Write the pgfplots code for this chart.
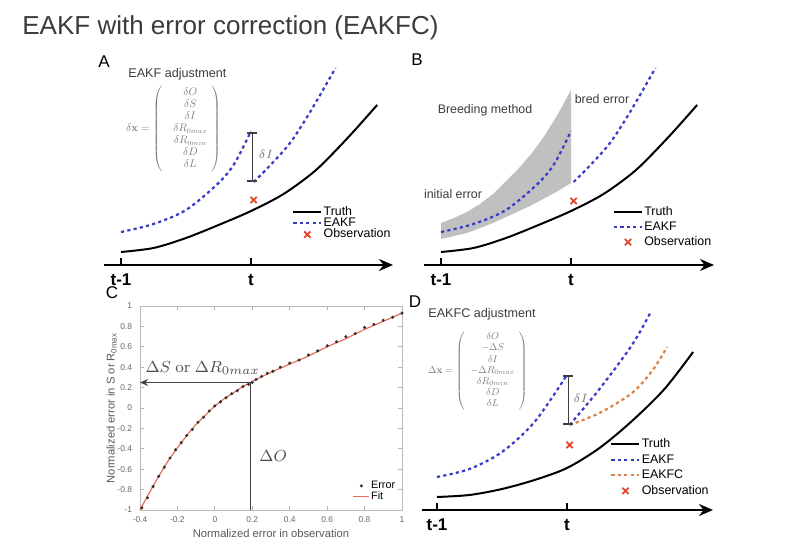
\documentclass[border=0pt]{standalone}
\usepackage{amsmath}
\usepackage[no-math]{fontspec}
\setmainfont{Liberation Sans}
\usepackage{pgfplots}
\pgfplotsset{compat=1.18}
\usetikzlibrary{arrows.meta}

\definecolor{eakf}{RGB}{55,60,200}
\definecolor{eakfc}{RGB}{215,130,70}
\definecolor{obs}{RGB}{225,70,45}
\definecolor{band}{RGB}{192,192,192}
\definecolor{fitc}{RGB}{230,110,90}
\definecolor{txt}{RGB}{60,60,60}
\definecolor{mat}{RGB}{125,125,125}

\newcommand\fs[2]{\fontsize{#1}{#2}\selectfont}

\pgfplotsset{
  sketch/.style={
    scale only axis, clip=false,
    axis x line=bottom, axis y line=none,
    ymin=0, ymax=215, ytick=\empty,
    xtick={0,1}, xticklabels={t-1,t},
    tick align=inside, major tick length=3.5pt,
    every tick/.style={black, line width=0.8pt},
    x axis line style={line width=1pt, -{Stealth[length=7pt,width=6pt]}},
    xticklabel style={font=\fs{8.5}{9}\bfseries, yshift=-1pt},
    legend cell align=left,
    legend style={draw=none, fill=none, font=\fs{6.2}{7}, anchor=north west,
      inner sep=0pt, nodes={inner sep=0.6pt, text height=4.6pt, text depth=1.2pt}},
    legend image code/.code={\draw[mark repeat=2,mark phase=2,##1]
      plot coordinates {(0pt,0pt) (7pt,0pt) (14pt,0pt)};},
  },
  truth/.style={black, line width=1pt, smooth},
  eakfl/.style={eakf, line width=1.1pt, dash pattern=on 1.6pt off 1.6pt, smooth},
  eakfcl/.style={eakfc, line width=1.1pt, dash pattern=on 1.6pt off 1.6pt, smooth},
  obsx/.style={only marks, mark=x, mark size=2.2pt, obs, line width=0.9pt},
}

\begin{document}
\begin{tikzpicture}[x=0.5pt,y=-0.5pt]
\fill[white] (0,0) rectangle (788,544);
\useasboundingbox (0,0) rectangle (788,544);

\node[anchor=base west, inner sep=0, font=\fs{13}{14}, text=txt] at (22,35)
  {EAKF with error correction (EAKFC)};

% ---------------- A
\begin{axis}[sketch, at={(52pt,-132.5pt)}, anchor=south west,
  width=144.5pt, height=107.5pt, xmin=-0.131, xmax=2.092, ymin=-2, ymax=213,
  legend style={at={(0.65,0.28)}, row sep=-1.4pt}]
\addplot[truth] coordinates {(0,11) (0.25,15) (0.5,25) (0.75,38) (1,52) (1.25,69) (1.5,93) (1.75,126) (1.97,158)};
\addlegendentry{Truth}
\addplot[eakfl] coordinates {(0,31) (0.25,39) (0.5,53) (0.75,80) (0.875,100) (1,132)};
\addlegendentry{EAKF}
\addplot[eakfl, forget plot] coordinates {(1.02,81) (1.15,98) (1.3,120) (1.45,150) (1.65,195)};
\addplot[obsx] coordinates {(1.02,63)};
\addlegendentry{Observation}
\draw[black!75, line width=0.8pt, {Bar[width=5pt]}-{Bar[width=5pt]}] (axis cs:1.01,131) -- (axis cs:1.01,81);
\node[font=\fs{6.3}{7}, text=mat, anchor=west, inner sep=1pt] at (axis cs:1.04,109) {$\delta I$};
\end{axis}

% ---------------- B
\begin{axis}[sketch, at={(212pt,-132.5pt)}, anchor=south west,
  width=145pt, height=107.5pt, xmin=-0.131, xmax=2.1, ymin=-2, ymax=213,
  legend style={at={(0.65,0.28)}, row sep=0.5pt}]
\addplot[fill=band, draw=none, forget plot] coordinates {
 (0,40) (0.1,45) (0.2,51) (0.3,59) (0.4,69) (0.5,82) (0.6,95) (0.7,110) (0.8,128) (0.9,149) (1,173)
 (1,80) (0.9,72) (0.8,65) (0.7,58) (0.6,52) (0.5,46) (0.4,40) (0.3,35) (0.2,30) (0.1,27) (0,24)} -- cycle;
\addplot[truth] coordinates {(0,11) (0.25,15) (0.5,25) (0.75,38) (1,52) (1.25,69) (1.5,93) (1.75,126) (1.97,158)};
\addlegendentry{Truth}
\addplot[eakfl] coordinates {(0,31) (0.25,39) (0.5,53) (0.75,80) (0.875,100) (1,132)};
\addlegendentry{EAKF}
\addplot[eakfl, forget plot] coordinates {(1.02,81) (1.15,98) (1.3,120) (1.45,150) (1.65,195)};
\addplot[obsx] coordinates {(1.02,62)};
\addlegendentry{Observation}
\end{axis}

% ---------------- C
\begin{axis}[at={(70pt,-255pt)}, anchor=south west, scale only axis,
  width=131pt, height=102pt, clip=false,
  xmin=-0.4, xmax=1, ymin=-1, ymax=1,
  xtick={-0.4,-0.2,0,0.2,0.4,0.6,0.8,1},
  xticklabels={-0.4,-0.2,0,0.2,0.4,0.6,0.8,1},
  ytick={-1,-0.8,-0.6,-0.4,-0.2,0,0.2,0.4,0.6,0.8,1},
  yticklabels={-1,-0.8,-0.6,-0.4,-0.2,0,0.2,0.4,0.6,0.8,1},
  axis line style={gray!55, line width=0.4pt},
  tick align=inside, major tick length=2pt,
  every tick/.style={gray!60},
  ticklabel style={font=\fs{4.2}{5}, text=black!60},
  yticklabel style={xshift=-0.5pt},
  xlabel={Normalized error in observation},
  ylabel={Normalized error in S or R\textsubscript{0max}},
  label style={font=\fs{5.6}{6}, text=black!65},
  xlabel style={yshift=3.5pt}, ylabel style={yshift=-6.5pt},
  legend cell align=left,
  legend style={draw=none, fill=none, font=\fs{5.4}{6}, at={(0.98,0.03)}, anchor=south east,
    inner sep=0pt, row sep=-1pt, nodes={inner sep=0.6pt}},
  legend image code/.code={\draw[mark repeat=2,mark phase=2,#1]
      plot coordinates {(0pt,0pt) (4pt,0pt) (8pt,0pt)};},
]
\addplot[only marks, mark=*, mark size=0.55pt, black!80] coordinates {
 (-0.39,-0.98) (-0.36,-0.88) (-0.33,-0.77) (-0.30,-0.67) (-0.27,-0.58) (-0.24,-0.49)
 (-0.21,-0.41) (-0.18,-0.34) (-0.15,-0.27) (-0.12,-0.21) (-0.09,-0.14) (-0.06,-0.09)
 (-0.03,-0.03) (0.00,0.02) (0.03,0.06) (0.06,0.10) (0.09,0.14) (0.12,0.17) (0.15,0.21)
 (0.18,0.23) (0.20,0.25) (0.22,0.28) (0.25,0.31) (0.28,0.34) (0.31,0.36) (0.35,0.40)
 (0.40,0.44) (0.45,0.47) (0.50,0.52) (0.55,0.56) (0.60,0.61) (0.65,0.65) (0.70,0.70)
 (0.75,0.73) (0.80,0.79) (0.85,0.82) (0.90,0.86) (0.95,0.89) (1.00,0.93)};
\addlegendentry{Error}
\addplot[fitc, line width=0.6pt, smooth] coordinates {
 (-0.4,-1) (-0.35,-0.83) (-0.3,-0.67) (-0.25,-0.52) (-0.2,-0.39) (-0.15,-0.27)
 (-0.1,-0.16) (-0.05,-0.07) (0,0.02) (0.05,0.09) (0.1,0.15) (0.15,0.21) (0.2,0.26)
 (0.3,0.35) (0.4,0.43) (0.5,0.51) (0.6,0.6) (0.7,0.68) (0.8,0.77) (0.9,0.85) (1,0.93)};
\addlegendentry{Fit}
\draw[black!75, line width=0.9pt, -{Stealth[length=4pt,width=3.5pt]}] (axis cs:0.19,0.25) -- (axis cs:-0.4,0.25);
\draw[black!75, line width=0.9pt] (axis cs:0.19,0.25) -- (axis cs:0.19,-1);
\node[font=\fs{8}{9}, text=black!70] at (axis cs:-0.065,0.39) {$\Delta S\ \mathrm{or}\ \Delta R_{0max}$};
\node[font=\fs{8}{9}, text=black!70, anchor=west] at (axis cs:0.2,-0.47) {$\Delta O$};
\end{axis}

% ---------------- D
\begin{axis}[sketch, at={(211pt,-255pt)}, anchor=south west,
  width=145.5pt, height=107.5pt, xmin=-0.1154, xmax=2.123,
  legend style={at={(0.646,0.34)}, row sep=0.75pt}]
\addplot[truth] coordinates {(0,13) (0.25,15) (0.5,21) (0.75,30) (1,42) (1.25,62) (1.5,89) (1.75,121) (1.97,158)};
\addlegendentry{Truth}
\addplot[eakfl] coordinates {(0,33) (0.25,41) (0.5,58) (0.75,88) (1,135)};
\addlegendentry{EAKF}
\addplot[eakfl, forget plot] coordinates {(1.02,85) (1.25,121) (1.5,165) (1.64,197)};
\addplot[eakfcl] coordinates {(1.02,85) (1.25,97) (1.5,117) (1.66,140) (1.77,163)};
\addlegendentry{EAKFC}
\addplot[obsx] coordinates {(1.02,65)};
\addlegendentry{Observation}
\draw[black!75, line width=0.8pt, {Bar[width=5pt]}-{Bar[width=5pt]}] (axis cs:1.01,135) -- (axis cs:1.01,85);
\node[font=\fs{6.3}{7}, text=mat, anchor=west, inner sep=1pt] at (axis cs:1.03,112) {$\delta I$};
\end{axis}

% ---------------- labels and formulas
\node[font=\fs{8.5}{9}] at (104,62) {A};
\node[font=\fs{8.5}{9}] at (417,60) {B};
\node[font=\fs{8.5}{9}] at (112,293) {C};
\node[font=\fs{8.5}{9}] at (415,302) {D};

\node[anchor=west, inner sep=0, font=\fs{6.3}{7}, text=txt] at (128,74) {EAKF adjustment};
\node[anchor=west, inner sep=0, font=\fs{6.3}{7}, text=txt] at (428,314) {EAKFC adjustment};
\node[font=\fs{6.2}{7}, text=txt] at (485,110) {Breeding method};
\node[font=\fs{6.2}{7}, text=txt] at (602,99) {bred error};
\node[font=\fs{6.2}{7}, text=txt] at (453,194) {initial error};

\node[anchor=west, inner sep=0, text=mat, scale=0.5, font=\fs{10.6}{12}] at (126,129)
  {$\delta\mathbf{x} = \left(\begin{array}{@{\hspace{11pt}}c@{\hspace{4pt}}}
   \delta O\\ \delta S\\ \delta I\\ \delta R_{0max}\\ \delta R_{0min}\\ \delta D\\ \delta L
   \end{array}\right)$};
\node[anchor=west, inner sep=0, text=mat, scale=0.5, font=\fs{9.6}{11.2}] at (428,371)
  {$\Delta\mathbf{x} = \left(\begin{array}{@{\hspace{6pt}}c@{\hspace{4pt}}}
   \delta O\\ -\Delta S\\ \delta I\\ -\Delta R_{0max}\\ \delta R_{0min}\\ \delta D\\ \delta L
   \end{array}\right)$};
\end{tikzpicture}
\end{document}
